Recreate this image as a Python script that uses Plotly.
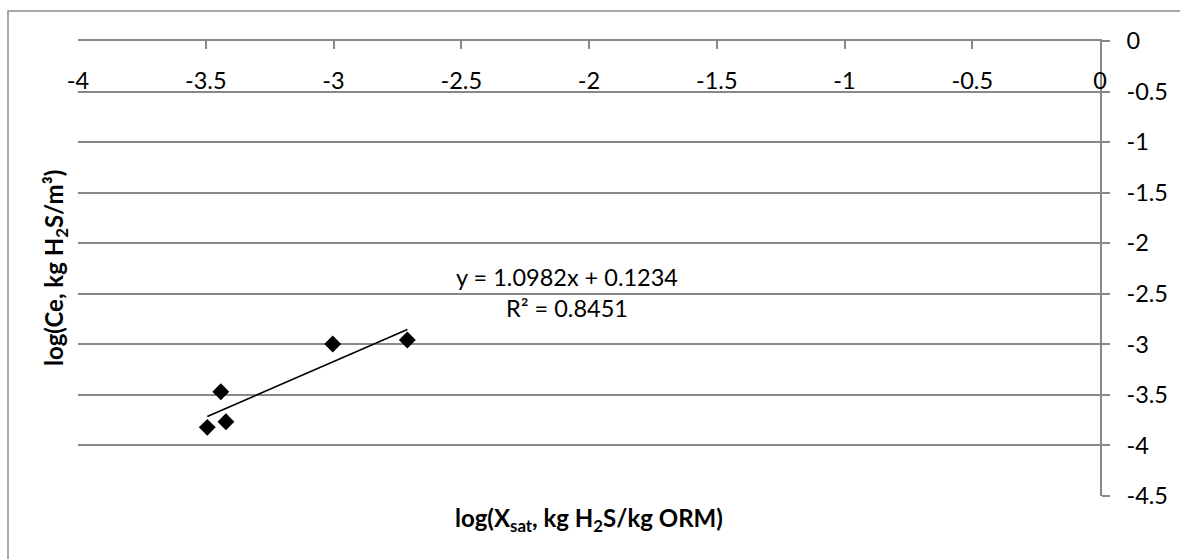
import plotly.graph_objects as go

# Data
x_vals = [-3.494, -3.441, -3.421, -3.003, -2.711]
y_vals = [-3.821, -3.469, -3.766, -2.997, -2.957]

# Linear trendline reported on the chart
slope = 1.0982
intercept = 0.1234
r_squared = 0.8451

x_ticks = [-4, -3.5, -3, -2.5, -2, -1.5, -1, -0.5, 0]
x_tick_labels = ["-4", "-3.5", "-3", "-2.5", "-2", "-1.5", "-1", "-0.5", "0"]
y_ticks = [0, -0.5, -1, -1.5, -2, -2.5, -3, -3.5, -4, -4.5]
y_tick_labels = ["0", "-0.5", "-1", "-1.5", "-2", "-2.5", "-3", "-3.5", "-4", "-4.5"]

FONT = "Lato"
GRAY = "#888888"
TICK_SIZE = 23.5
TITLE_SIZE = 24

trend_x = [min(x_vals), max(x_vals)]
trend_y = [slope * v + intercept for v in trend_x]

fig = go.Figure()
fig.add_trace(go.Scatter(
    x=trend_x, y=trend_y, mode="lines",
    line=dict(color="black", width=1.6), showlegend=False, hoverinfo="skip"))
fig.add_trace(go.Scatter(
    x=x_vals, y=y_vals, mode="markers",
    marker=dict(symbol="diamond", size=13, color="black"),
    showlegend=False))
# invisible trace so the label axis is drawn
fig.add_trace(go.Scatter(
    x=x_vals, y=y_vals, xaxis="x2", mode="markers",
    marker=dict(size=1, opacity=0), showlegend=False, hoverinfo="skip"))

W, H = 1180, 559
L, R, T, B = 78, 80, 41, 63
pw = W - L - R
ph = H - T - B

def px_x(px):
    return (px - L) / pw

def px_y(py):
    return (H - B - py) / ph

fig.update_layout(
    width=W, height=H,
    margin=dict(l=L, r=R, t=T, b=B, autoexpand=False),
    paper_bgcolor="white", plot_bgcolor="white",
    font=dict(family=FONT, size=TICK_SIZE, color="black"),
    xaxis=dict(
        range=[-4, 0], side="top",
        tickvals=x_ticks, showticklabels=False,
        ticks="inside", ticklen=8, tickcolor=GRAY, tickwidth=1.5,
        showline=True, linecolor=GRAY, linewidth=1.5,
        showgrid=False, zeroline=False, automargin=False,
    ),
    xaxis2=dict(
        range=[-4, 0], overlaying="x", anchor="free", side="top",
        position=px_y(94),
        tickvals=x_ticks, ticktext=x_tick_labels,
        ticks="", showline=False, showgrid=False, zeroline=False,
        ticklabelstandoff=0, automargin=False,
        tickfont=dict(family=FONT, size=TICK_SIZE, color="black"),
    ),
    yaxis=dict(
        range=[-4.5, 0], side="right",
        tickvals=y_ticks, ticktext=y_tick_labels,
        ticks="outside", ticklen=8, tickcolor=GRAY, tickwidth=1.5,
        ticklabelstandoff=12,
        showline=True, linecolor=GRAY, linewidth=1.5,
        showgrid=True, gridcolor=GRAY, gridwidth=1.5,
        zeroline=False, automargin=False,
        tickfont=dict(family=FONT, size=TICK_SIZE, color="black"),
    ),
    shapes=[dict(
        type="rect", xref="paper", yref="paper",
        x0=px_x(8), x1=px_x(1200), y0=px_y(580), y1=px_y(11),
        line=dict(color="#8c8c8c", width=1.5), fillcolor="rgba(0,0,0,0)",
        layer="below")],
    annotations=[
        dict(text="<b>log(Ce, kg H<sub>2</sub>S/m³)</b>", textangle=-90,
             xref="paper", yref="paper", x=px_x(55), y=px_y(268),
             showarrow=False, xanchor="center", yanchor="middle",
             font=dict(family=FONT, size=TITLE_SIZE, color="black")),
        dict(text="<b>log(X<sub>sat</sub>, kg H<sub>2</sub>S/kg ORM)</b>",
             xref="paper", yref="paper", x=px_x(589), y=px_y(519),
             showarrow=False, xanchor="center", yanchor="middle",
             font=dict(family=FONT, size=TITLE_SIZE, color="black")),
        dict(text=f"y = {slope:.4f}x + {intercept:.4f}",
             xref="paper", yref="paper", x=px_x(567), y=px_y(277),
             showarrow=False, xanchor="center", yanchor="middle",
             font=dict(family=FONT, size=TICK_SIZE, color="black")),
        dict(text=f"R² = {r_squared:.4f}",
             xref="paper", yref="paper", x=px_x(567), y=px_y(308),
             showarrow=False, xanchor="center", yanchor="middle",
             font=dict(family=FONT, size=TICK_SIZE, color="black")),
    ],
)

fig.write_html(
    "out.html",
    config={"displayModeBar": False},
    post_script="document.body.style.margin='0';document.body.style.padding='0';",
)
